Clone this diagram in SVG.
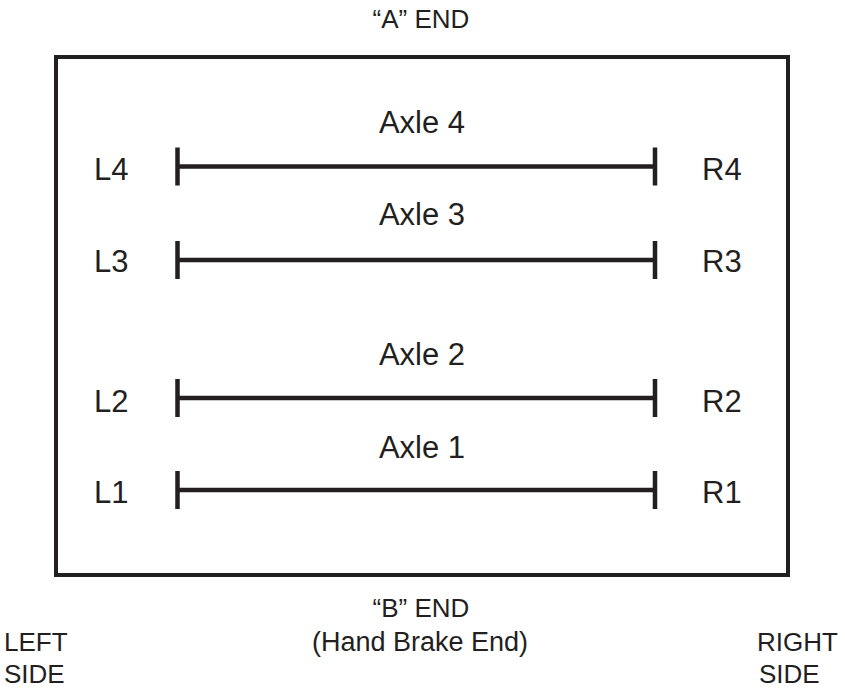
<svg xmlns="http://www.w3.org/2000/svg" width="845" height="690" viewBox="0 0 845 690">
<style>
.t{font-family:"Liberation Sans",Arial,Helvetica,sans-serif;fill:#231f20}
.lbl{font-size:31px}
.end{font-size:26px;text-anchor:middle}
.side{font-size:26px}
.ax{stroke:#231f20;stroke-width:4.5;fill:none}
.frame{stroke:#231f20;stroke-width:4;fill:none}
</style>
<rect width="845" height="690" fill="#ffffff"/>
<g id="car">
<rect class="frame" x="56" y="57" width="732" height="518"/>
</g>
<g id="labels">
<text class="t end" x="421" y="28">“A” END</text>
<text class="t end" x="421" y="617">“B” END</text>
<text class="t end" x="420" y="651" style="font-size:27px">(Hand Brake End)</text>
<text class="t side" x="4" y="651">LEFT</text>
<text class="t side" x="4" y="683">SIDE</text>
<text class="t side" x="757" y="651">RIGHT</text>
<text class="t side" x="759" y="683">SIDE</text>
</g>
<g id="axle4">
<text class="t lbl" x="422" y="133" text-anchor="middle">Axle 4</text>
<text class="t lbl" x="94" y="180">L4</text>
<text class="t lbl" x="702" y="180">R4</text>
</g>
<g id="axle3">
<text class="t lbl" x="422" y="225" text-anchor="middle">Axle 3</text>
<text class="t lbl" x="94" y="272">L3</text>
<text class="t lbl" x="702" y="272">R3</text>
</g>
<g id="axle2">
<text class="t lbl" x="422" y="365" text-anchor="middle">Axle 2</text>
<text class="t lbl" x="94" y="412">L2</text>
<text class="t lbl" x="702" y="412">R2</text>
</g>
<g id="axle1">
<text class="t lbl" x="422" y="458" text-anchor="middle">Axle 1</text>
<text class="t lbl" x="94" y="503">L1</text>
<text class="t lbl" x="702" y="503">R1</text>
</g>
<g id="connectors">
<path class="ax" d="M177.5 166.5H655M177.5 147.5V185.5M655 147.5V185.5"/>
<path class="ax" d="M177.5 260H655M177.5 241V279M655 241V279"/>
<path class="ax" d="M177.5 398H655M177.5 379V417M655 379V417"/>
<path class="ax" d="M177.5 490H655M177.5 471V509M655 471V509"/>
</g>
</svg>
